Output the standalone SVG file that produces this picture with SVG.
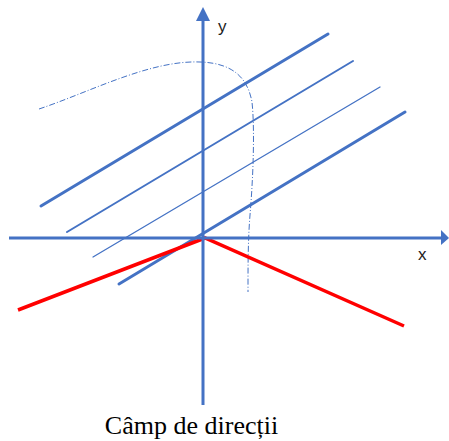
<svg xmlns="http://www.w3.org/2000/svg" width="449" height="441" viewBox="0 0 449 441">
<style>
.ax{stroke:#4472C4;stroke-width:3;fill:none}
.fl{stroke:#4472C4;fill:none;stroke-linecap:round}
.red{stroke:#FF0000;stroke-width:3.5;fill:none}
.lbl{font-family:"Liberation Sans",Arial,sans-serif;font-size:17px;fill:#222}
.cap{font-family:"Liberation Serif","Times New Roman",serif;font-size:26px;fill:#000}
</style>
<rect width="449" height="441" fill="#fff"/>
<g id="field">
<line class="fl" x1="41" y1="206" x2="328" y2="34" stroke-width="3"/>
<line class="fl" x1="67" y1="232" x2="353" y2="61" stroke-width="2"/>
<line class="fl" x1="93" y1="257" x2="380" y2="87" stroke-width="1.3"/>
<line class="fl" x1="119" y1="284" x2="405" y2="112" stroke-width="3"/>
</g>
<g id="curve">
<path d="M39,109 C90,92 150,60 200,62 C235,63 248,80 252,102 C255,130 253,180 250,215 C248,240 248,265 248,292" fill="none" stroke="#4472C4" stroke-width="1" stroke-dasharray="6,2,1,2"/>
</g>
<g id="red">
<polyline class="red" points="18,310 205,238 404,326"/>
</g>
<g id="axes">
<line class="ax" x1="9" y1="238" x2="442" y2="238"/>
<polygon points="441,230 449,238 441,245" fill="#4472C4"/>
<line class="ax" x1="203" y1="405" x2="203" y2="20"/>
<polygon points="196,21 203,7 210,21" fill="#4472C4"/>
<text class="lbl" x="218" y="32">y</text>
<text class="lbl" x="418" y="260">x</text>
</g>
<text class="cap" x="191.5" y="434" text-anchor="middle">Câmp de direcții</text>
</svg>
